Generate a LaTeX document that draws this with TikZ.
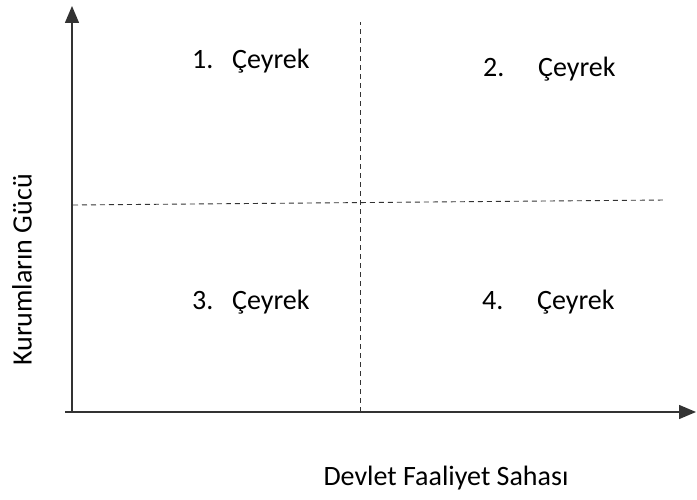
\documentclass[tikz,border=0pt]{standalone}
\usepackage{fontspec}
\setmainfont{Carlito}
\usetikzlibrary{arrows.meta}
\begin{document}
\begin{tikzpicture}[x=1pt,y=-1pt,
  axis/.style={line width=1.4pt,draw=black!80,-{Triangle[length=17pt,width=14pt]}},
  divider/.style={line width=0.9pt,draw=black!80,dash pattern=on 5pt off 4pt},
  lbl/.style={font=\fontsize{28}{32}\selectfont,inner sep=0pt},
  quad/.style={lbl,anchor=base west}]
\useasboundingbox (0,0) rectangle (697,500);
\coordinate (o) at (72,412);
\coordinate (yt) at (72,6);
\coordinate (xs) at (65,412);
\coordinate (xt) at (696,412);
\coordinate (vt) at (360,22);
\coordinate (vb) at (360,412);
\coordinate (hl) at (73,205);
\coordinate (hr) at (666,200);
\draw[axis] (o) -- (yt);
\draw[axis] (xs) -- (xt);
\draw[divider] (vb) -- (vt);
\draw[divider] (hl) -- (hr);
\node[quad] (q1) at (192,69) {\makebox[40pt][l]{1.}Çeyrek};
\node[quad] (q2) at (483,77) {\makebox[55pt][l]{2.}Çeyrek};
\node[quad] (q3) at (192,309) {\makebox[40pt][l]{3.}Çeyrek};
\node[quad] (q4) at (482,309) {\makebox[55pt][l]{4.}Çeyrek};
\node[lbl,rotate=90] (yl) at (22,270) {Kurumların Gücü};
\node[lbl] (xl) at (446,478) {Devlet Faaliyet Sahası};
\end{tikzpicture}
\end{document}
